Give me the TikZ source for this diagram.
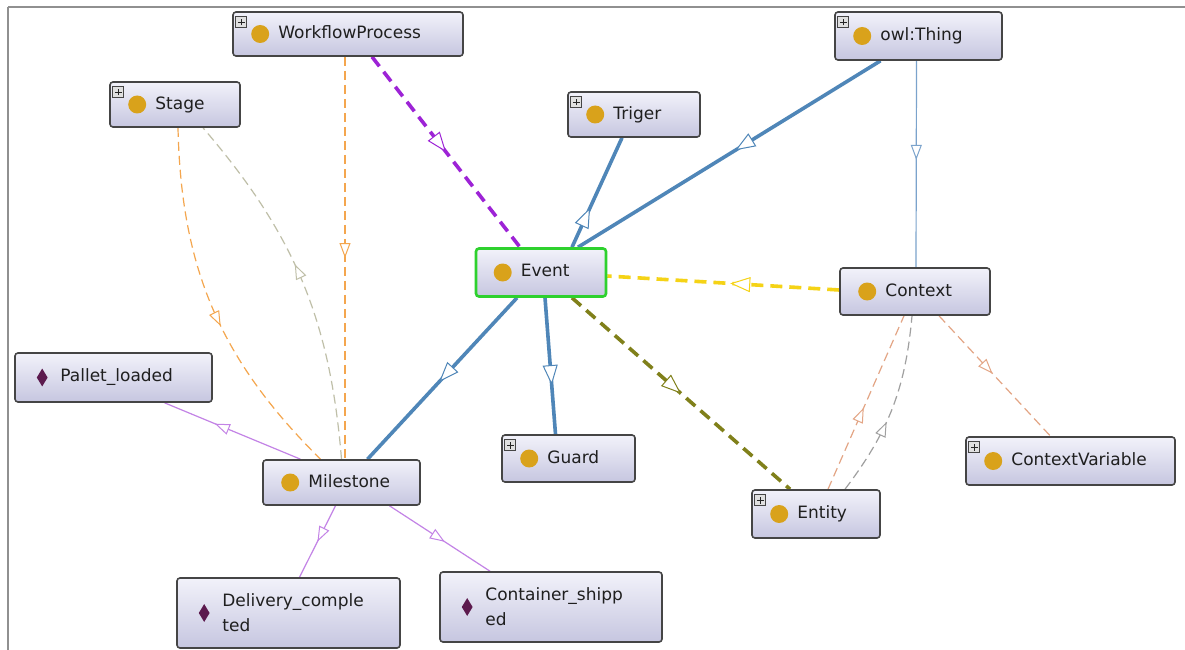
\documentclass[tikz,border=0pt]{standalone}
\usepackage{fontspec}
\setmainfont{DejaVu Sans}
\usetikzlibrary{arrows.meta,decorations.markings,shapes.geometric}
\pgfdeclarelayer{back}\pgfdeclarelayer{edges}\pgfsetlayers{back,edges,main}
\definecolor{boxborder}{HTML}{454545}
\definecolor{boxtop}{HTML}{F2F2FA}
\definecolor{boxbot}{HTML}{C6C6E0}
\definecolor{evgreen}{HTML}{2ED12E}
\definecolor{gold}{HTML}{D9A21B}
\definecolor{dpurple}{HTML}{5C1A4E}
\definecolor{blueT}{HTML}{4F86B8}
\definecolor{purpleE}{HTML}{9D23D6}
\definecolor{yellowE}{HTML}{F5D316}
\definecolor{oliveE}{HTML}{80801A}
\definecolor{thinblue}{HTML}{7BA3CC}
\definecolor{orangeE}{HTML}{F4A64E}
\definecolor{salmonE}{HTML}{E3A585}
\definecolor{grayE}{HTML}{A0A0A0}
\definecolor{grayG}{HTML}{BFBFA8}
\definecolor{violetE}{HTML}{C383E6}
\definecolor{framegray}{HTML}{909090}
\tikzset{
  box/.style={draw=boxborder, line width=1.6pt, rounded corners=3pt, top color=boxtop, bottom color=boxbot, inner sep=0pt},
  circ/.style={circle, fill=gold, minimum size=18pt, inner sep=0pt},
  diam/.style={diamond, fill=dpurple, minimum width=11pt, minimum height=18pt, inner sep=0pt},
  lbl/.style={anchor=west, inner sep=0pt, font=\fontsize{17}{25}\selectfont, text=black!88, align=left},
  one/.style={text height=12.5pt, text depth=3.5pt},
  plusbox/.style={draw=boxborder, fill=black!12, minimum size=11pt, inner sep=0pt, line width=0.7pt,
    path picture={\draw[line width=1.2pt, black!85] ([xshift=-3.3pt]path picture bounding box.center) -- ([xshift=3.3pt]path picture bounding box.center);
      \draw[line width=1.2pt, black!85] ([yshift=-3.3pt]path picture bounding box.center) -- ([yshift=3.3pt]path picture bounding box.center);}},
  midT/.style={postaction={decorate}, decoration={markings, mark=at position #1 with {\arrow{Triangle[length=20pt,width=15pt,fill=white,line width=1pt]}}}},
  midt/.style={postaction={decorate}, decoration={markings, mark=at position #1 with {\arrow{Triangle[length=15pt,width=11pt,fill=white,line width=1pt]}}}},
  thickE/.style={line width=3.6pt},
  thickdash/.style={line width=3.6pt, dash pattern=on 12pt off 7pt},
  thinE/.style={line width=1.2pt},
  thindash/.style={line width=1.2pt, dash pattern=on 9pt off 5pt},
}
\newcommand{\ontnode}[8]{%
  \node[box, minimum width=#4, minimum height=#5, #8] (#1) at (#2,#3) {};
  \node[#6] (#1-i) at ([xshift=28pt]#1.west) {};
  \node[lbl] (#1-t) at ([xshift=46pt]#1.west) {#7};
}
\newcommand{\ontplus}[1]{\node[plusbox] (#1-p) at ([xshift=9pt,yshift=-11pt]#1.north west) {};}
\begin{document}
\begin{tikzpicture}[x=1pt,y=-1pt]
\begin{pgfonlayer}{back}
\fill[white] (0,0) rectangle (1185,650);
\end{pgfonlayer}
\useasboundingbox (0,0) rectangle (1185,650);
\draw[framegray, line width=2pt] (8,7.5) -- (1185,7.5);
\draw[framegray, line width=2pt] (8,7.5) -- (8,650);
% nodes
\ontnode{WP}{348}{34}{230}{44}{circ}{\hbox{WorkflowProcess}\vphantom{Ag}}{}
\ontplus{WP}
\ontnode{Owl}{918.5}{36}{167}{48}{circ}{owl:Thing\vphantom{Ag}}{}
\ontplus{Owl}
\ontnode{Stage}{175}{104.5}{130}{45}{circ}{Stage\vphantom{Ag}}{}
\ontplus{Stage}
\ontnode{Triger}{634}{114.5}{132}{45}{circ}{Triger\vphantom{Ag}}{}
\ontplus{Triger}
\ontnode{Event}{541}{272.5}{130}{48}{circ}{Event\vphantom{Ag}}{draw=evgreen, line width=2.6pt}
\ontnode{Context}{915}{291.5}{150}{47}{circ}{Context\vphantom{Ag}}{}
\ontnode{Pallet}{113.5}{377.5}{197}{49}{diam}{Pallet\_loaded\vphantom{Ag}}{}
\ontnode{Milestone}{341.5}{482.5}{157}{45}{circ}{Milestone\vphantom{Ag}}{}
\ontnode{Guard}{568.5}{458.5}{133}{47}{circ}{Guard\vphantom{Ag}}{}
\ontplus{Guard}
\ontnode{Entity}{816}{514}{128}{48}{circ}{Entity\vphantom{Ag}}{}
\ontplus{Entity}
\ontnode{CV}{1070.5}{461}{209}{48}{circ}{ContextVariable\vphantom{Ag}}{}
\ontplus{CV}
\ontnode{Deliv}{288.5}{613}{223}{70}{diam}{Delivery\_comple\\ted}{}
\ontnode{Cont}{551}{607}{222}{70}{diam}{Container\_shipp\\ed}{}
% edges
\begin{pgfonlayer}{edges}
\draw[purpleE, thickdash, midT=0.5] ([xshift=24pt]WP.south) -- ([xshift=-21pt]Event.north);
\draw[blueT, thickE, midT=0.48] ([xshift=-38pt]Owl.south) -- ([xshift=37pt]Event.north);
\draw[blueT, thickE, midT=0.36] ([xshift=31pt]Event.north) -- ([xshift=-12pt]Triger.south);
\draw[blueT, thickE, midT=0.64] ([xshift=4pt]Event.south) -- ([xshift=-13pt]Guard.north);
\draw[blueT, thickE, midT=0.52] ([xshift=-24pt]Event.south) -- ([xshift=26pt]Milestone.north);
\draw[yellowE, thickdash, midT=0.47] ([yshift=1.5pt]Context.west) -- ([yshift=-3.5pt]Event.east);
\draw[oliveE, thickdash, midT=0.5] ([xshift=31pt]Event.south) -- ([xshift=-26pt]Entity.north);
\draw[thinblue, thinE, midt=0.48] ([xshift=-2pt]Owl.south) -- ([xshift=1pt]Context.north);
\draw[salmonE, thindash, midt=0.48] ([xshift=24pt]Context.south) -- ([xshift=-20pt]CV.north);
\draw[salmonE, thindash, midt=0.47] ([xshift=12pt]Entity.north) -- ([xshift=-11pt]Context.south);
\draw[grayE, thindash, midt=0.42] ([xshift=29pt]Entity.north) to[bend right=16] ([xshift=-3pt]Context.south);
\draw[orangeE, thindash, midt=0.5] ([xshift=-3pt]WP.south) -- ([xshift=3.5pt]Milestone.north);
\draw[orangeE, thindash, midt=0.55] ([xshift=3pt]Stage.south) to[bend right=22] ([xshift=-21pt]Milestone.north);
\draw[grayG, thindash, midt=0.55] (Milestone.north) to[bend right=18] ([xshift=28pt]Stage.south);
\draw[violetE, thinE, midt=0.63] ([xshift=-41pt]Milestone.north) -- ([xshift=51pt]Pallet.south);
\draw[violetE, thinE, midt=0.5] ([xshift=-6pt]Milestone.south) -- ([xshift=11pt]Deliv.north);
\draw[violetE, thinE, midt=0.55] ([xshift=48pt]Milestone.south) -- ([xshift=-61pt]Cont.north);
\end{pgfonlayer}
\end{tikzpicture}
\end{document}
